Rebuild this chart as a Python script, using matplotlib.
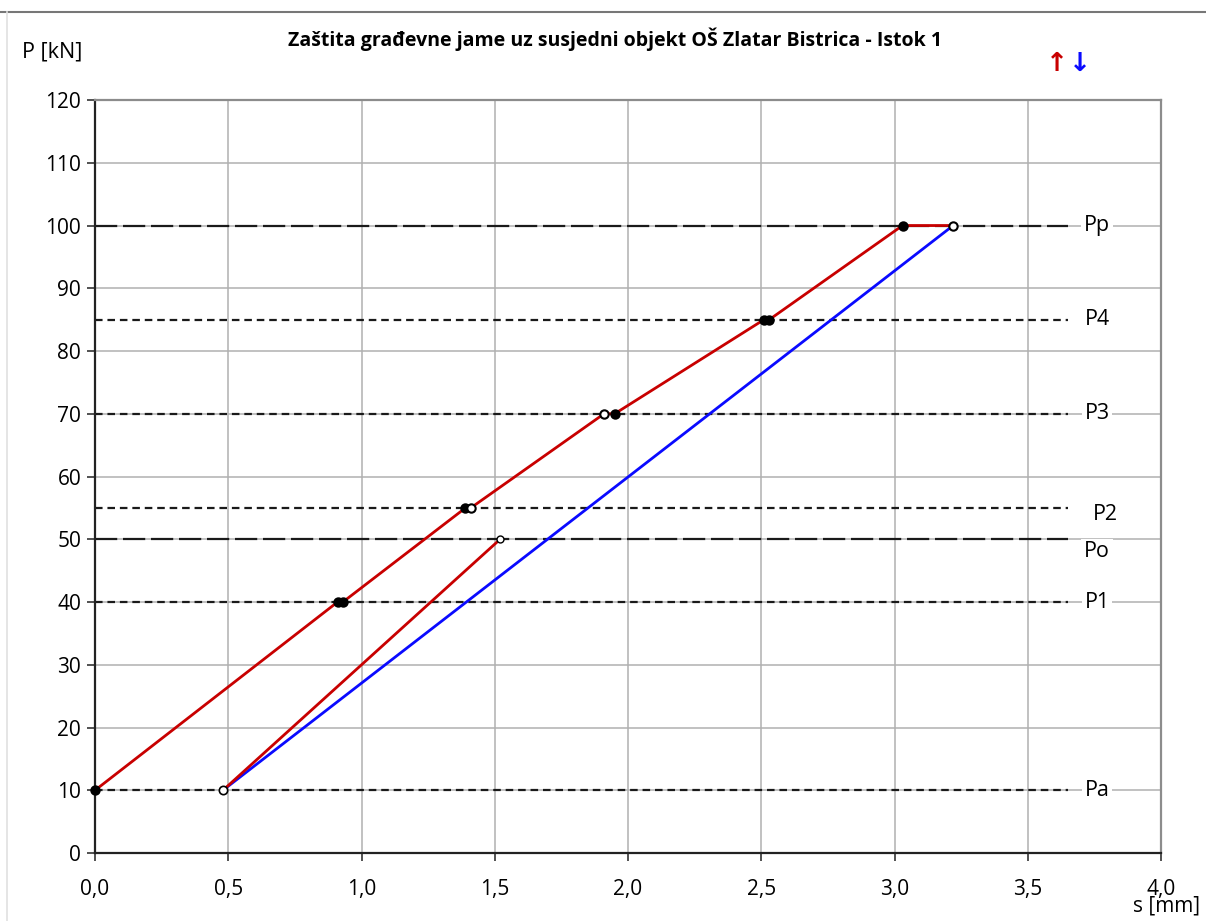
import numpy as np
import matplotlib
matplotlib.use('Agg')
import matplotlib.pyplot as plt
from matplotlib.lines import Line2D

plt.rcParams['font.family'] = ['Open Sans', 'DejaVu Sans']

# Podaci ispitivanja
s_opterecenje = [0.0, 0.91, 0.93, 1.39, 1.41, 1.91, 1.95, 2.51, 2.53, 3.03, 3.22]
p_opterecenje = [10, 40, 40, 55, 55, 70, 70, 85, 85, 100, 100]
ispuna_opt = ['k', 'k', 'k', 'k', 'w', 'w', 'k', 'k', 'k', 'k', 'w']

s_rasterecenje = [3.22, 0.48]
p_rasterecenje = [100, 10]

s_ponovno = [0.48, 1.52]
p_ponovno = [10, 50]

razine_naziv = ['Pp', 'P4', 'P3', 'P2', 'Po', 'P1', 'Pa']
razine_p = [100, 85, 70, 55, 50, 40, 10]
razine_dugi = [True, False, False, False, True, False, False]
razine_pomak = [0, 0, 0, -1, -2, 0, 0]

x_ticks = [0.0, 0.5, 1.0, 1.5, 2.0, 2.5, 3.0, 3.5, 4.0]
y_ticks = list(range(0, 121, 10))

crvena = '#C80000'
plava = '#0A0AFF'

fig = plt.figure(figsize=(12.06, 9.21), dpi=100)
ax = fig.add_axes([0.0788, 0.0738, 0.9839 - 0.0788 - 0.0212, 0.8914 - 0.0738])

ax.set_xlim(0, 4)
ax.set_ylim(0, 120)
ax.set_xticks(x_ticks)
ax.set_yticks(y_ticks)
ax.set_xticklabels([f'{v:.1f}'.replace('.', ',') for v in x_ticks])
ax.tick_params(labelsize=15, length=6, width=1.2, color='#333333', pad=13)
ax.tick_params(axis='y', pad=4)
ax.grid(True, color='#b0b0b0', lw=1.1)
ax.set_axisbelow(True)

for sp in ['left', 'bottom']:
    ax.spines[sp].set_color('#222222')
    ax.spines[sp].set_linewidth(1.6)
for sp in ['top', 'right']:
    ax.spines[sp].set_color('#8c8c8c')
    ax.spines[sp].set_linewidth(1.6)

# Horizontalne razine
for naziv, p, dugi, pomak in zip(razine_naziv, razine_p, razine_dugi, razine_pomak):
    crtice = (10, 2.6) if dugi else (3.4, 2.2)
    ax.plot([0, 3.65], [p, p], color='#1a1a1a', lw=1.6, dashes=crtice, zorder=2)
    ax.text(3.76 + (0.03 if naziv == 'P2' else 0), p + pomak, naziv, fontsize=15.5,
            ha='center', va='center', zorder=3,
            bbox=dict(facecolor='white', edgecolor='none', pad=2))

# Krivulje
ax.plot(s_rasterecenje, p_rasterecenje, color=plava, lw=2.0, zorder=4)
ax.plot(s_ponovno, p_ponovno, color=crvena, lw=2.0, zorder=4)
ax.plot(s_opterecenje, p_opterecenje, color=crvena, lw=2.0, zorder=5)

for s, p, f in zip(s_opterecenje, p_opterecenje, ispuna_opt):
    ax.plot(s, p, 'o', ms=6, mfc=f, mec='k', mew=1.5, zorder=6, clip_on=False)
ax.plot(s_ponovno[0], p_ponovno[0], 'o', ms=6, mfc='w', mec='k', mew=1.2, zorder=6)
ax.plot(s_ponovno[1], p_ponovno[1], 'o', ms=5, mfc='w', mec='k', mew=1.0, zorder=6)

# Naslov i oznake osi
fig.text(0.51, 0.957, 'Zaštita građevne jame uz susjedni objekt OŠ Zlatar Bistrica - Istok 1',
         fontsize=14, fontweight='bold', ha='center', va='center')
fig.text(0.018, 0.943, 'P [kN]', fontsize=15.5, ha='left', va='center')
fig.text(0.995, 0.016, 's [mm]', fontsize=15, ha='right', va='center')
fig.text(0.8765, 0.931, '↑', fontsize=19, color=crvena, ha='center', va='center',
         family='DejaVu Sans', fontweight='bold')
fig.text(0.8955, 0.931, '↓', fontsize=19, color=plava, ha='center', va='center',
         family='DejaVu Sans', fontweight='bold')

# Okvir slike
fig.add_artist(Line2D([0, 1], [0.987, 0.987], color='#777777', lw=1.5, transform=fig.transFigure))
fig.add_artist(Line2D([0.006, 0.006], [0, 0.987], color='#e0e0e0', lw=1.2, transform=fig.transFigure))

fig.savefig('out.png', dpi=100)
